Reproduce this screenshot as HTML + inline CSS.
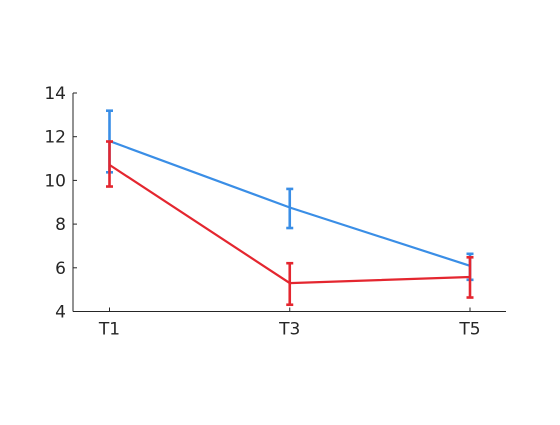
<!DOCTYPE html>
<html><head><meta charset="utf-8"><style>
body{margin:0;background:#fff;}
svg text{font-family:"DejaVu Sans","Liberation Sans",sans-serif;font-size:17px;fill:#262626;}
</style></head><body>
<svg id="chart" width="560" height="420" xmlns="http://www.w3.org/2000/svg">
<g id="axes"></g>
<g id="series"></g>
</svg>
<script>
const categories = ["T1","T3","T5"];
const yTicks = [4,6,8,10,12,14];
const blueMean = [11.8, 8.76, 6.09];
const blueLow = [10.37, 7.82, 5.45];
const blueHigh = [13.19, 9.61, 6.64];
const redMean = [10.71, 5.30, 5.58];
const redLow = [9.72, 4.31, 4.64];
const redHigh = [11.78, 6.21, 6.48];

const NS="http://www.w3.org/2000/svg";
const L=73,R=506,T=93,B=311.5;
const xPos=[109.5,290,470];
function x(i){return xPos[0]+(xPos[2]-xPos[0])*i/(categories.length-1);}
function y(v){return B-(v-4)/(14-4)*(B-T);}
function mk(tag,attrs,parent){const e=document.createElementNS(NS,tag);for(const k in attrs)e.setAttribute(k,attrs[k]);parent.appendChild(e);return e;}
const ax=document.getElementById('axes');
let e=mk('line',{x1:L,y1:T,x2:L,y2:B,stroke:'#262626','stroke-width':1},ax);


e=mk('line',{x1:L,y1:B,x2:R,y2:B,stroke:'#262626','stroke-width':1},ax);


yTicks.forEach(v=>{
  const t=mk('line',{x1:L,y1:y(v),x2:L+4,y2:y(v),stroke:'#262626'},ax);
  
  
  const tx=mk('text',{x:66,y:y(v)+6,'text-anchor':'end'},ax);tx.textContent=v;
  
  
});
categories.forEach((c,i)=>{
  const t=mk('line',{x1:x(i),y1:B,x2:x(i),y2:B-4,stroke:'#262626'},ax);
  
  
  const tx=mk('text',{x:x(i),y:B+23,'text-anchor':'middle'},ax);tx.textContent=c;
  
  
});
const sg=document.getElementById('series');
function series(mean,lo,hi,color,name){
  const g=mk('g',{},sg);
  
  
  const p=mk('polyline',{points:mean.map((v,i)=>x(i)+','+y(v)).join(' '),fill:'none',stroke:color,'stroke-width':2.2},g);
  
  
  mean.forEach((v,i)=>{
    const eg=mk('g',{stroke:color,'stroke-width':2.6},g);
    
    
    mk('line',{x1:x(i),y1:y(lo[i]),x2:x(i),y2:y(hi[i])},eg);
    mk('line',{x1:x(i)-3.5,y1:y(lo[i]),x2:x(i)+3.5,y2:y(lo[i])},eg);
    mk('line',{x1:x(i)-3.5,y1:y(hi[i]),x2:x(i)+3.5,y2:y(hi[i])},eg);
  });
}
series(blueMean,blueLow,blueHigh,'#3a8ee6','blue-series');
series(redMean,redLow,redHigh,'#e4262f','red-series');
</script>
</body></html>
